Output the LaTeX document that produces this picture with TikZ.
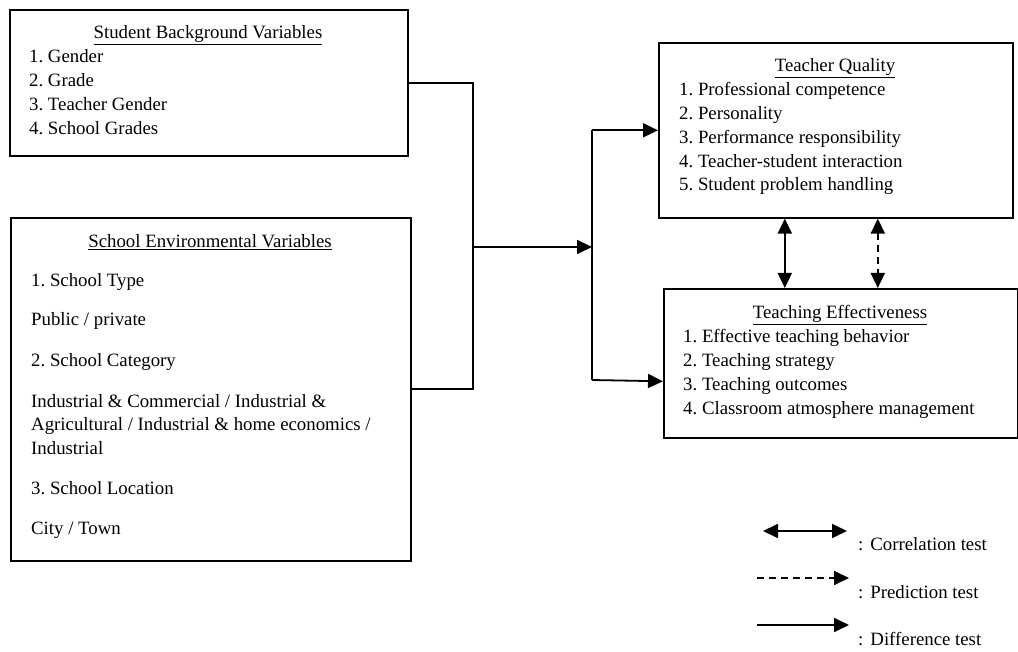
\documentclass[tikz,border=0pt]{standalone}
\usepackage{fontspec}
\setmainfont{Liberation Serif}
\usetikzlibrary{arrows.meta,positioning}
\frenchspacing

\tikzset{
  box/.style={draw, line width=1.6pt, rectangle, anchor=north west, inner sep=0pt},
  txt/.style={anchor=base west, inner sep=0pt, font=\fontsize{18.8}{23.7}\selectfont},
  head/.style={anchor=base, inner sep=0pt, font=\fontsize{18.8}{23.7}\selectfont},
  link/.style={line width=1.8pt},
  arr/.style={line width=1.8pt, -{Triangle[length=15pt,width=14pt]}},
  both/.style={line width=1.8pt, {Triangle[length=15pt,width=14pt]}-{Triangle[length=15pt,width=14pt]}},
  dash line/.style={dash pattern=on 7pt off 5pt}
}

\begin{document}
\begin{tikzpicture}[x=1pt,y=-1pt]
  \useasboundingbox (0,0) rectangle (1018,652);

  % boxes
  \node[box, minimum width=398pt, minimum height=146pt] (sbv) at (9,9) {};
  \node[box, minimum width=400pt, minimum height=343pt] (sev) at (10,217) {};
  \node[box, minimum width=354pt, minimum height=175pt] (tq) at (658,42) {};
  \node[box, minimum width=354pt, minimum height=149pt] (te) at (663,288) {};

  % student background
  \node[head] (sbvh) at (208,39) {\underline{Student Background Variables}};
  \foreach \t [count=\i] in {Gender, Grade, Teacher Gender, School Grades}
    \node[txt] (sbv\i) at (29,39+24*\i) {\i. \t};

  % school environment
  \node[head] (sevh) at (210,248) {\underline{School Environmental Variables}};
  \node[txt] (sev1) at (31,287) {1. School Type};
  \node[txt] (sev1a) at (31,326) {Public / private};
  \node[txt] (sev2) at (31,367) {2. School Category};
  \node[txt] (sev2a) at (31,407) {Industrial \& Commercial / Industrial \&};
  \node[txt] (sev2b) at (31,431) {Agricultural / Industrial \& home economics /};
  \node[txt] (sev2c) at (31,454) {Industrial};
  \node[txt] (sev3) at (31,494) {3. School Location};
  \node[txt] (sev3a) at (31,534) {City / Town};

  % teacher quality
  \node[head] (tqh) at (835,72) {\underline{Teacher Quality}};
  \foreach \t [count=\i] in {Professional competence, Personality,
      Performance responsibility, Teacher-student interaction,
      Student problem handling}
    \node[txt] (tq\i) at (679,72+23.8*\i) {\i. \t};

  % teaching effectiveness
  \node[head] (teh) at (840,319) {\underline{Teaching Effectiveness}};
  \foreach \t [count=\i] in {Effective teaching behavior, Teaching strategy,
      Teaching outcomes, Classroom atmosphere management}
    \node[txt] (te\i) at (683,319+23.8*\i) {\i. \t};

  % connectors
  \coordinate (jl) at (473,247);
  \coordinate (jr) at (592,247);
  \draw[link] (sbv.east) -| (jl) |- (sev.east);
  \draw[arr] (jl) -- (jr);
  \draw[link] (jr |- tq.west) -- (jr |- 0,380);
  \draw[arr] (jr |- tq.west) -- (tq.west);
  \draw[arr] (jr |- 0,380) -- ([yshift=-18pt]te.west);
  \draw[both] ([xshift=-51pt]tq.south) -- ([xshift=-51pt]tq.south |- te.north);
  \draw[both, dash line] ([xshift=42pt]tq.south) -- ([xshift=42pt]tq.south |- te.north);

  % legend
  \coordinate (c1) at (763,531);
  \coordinate (c2) at (847,531);
  \coordinate (p1) at (757,578);
  \coordinate (p2) at (849,578);
  \coordinate (d1) at (757,625);
  \coordinate (d2) at (849,625);
  \draw[both] (c1) -- (c2);
  \draw[arr, dash line] (p1) -- (p2);
  \draw[arr] (d1) -- (d2);
  \node[txt] (cl) at (858,550) {:\hspace{7pt}Correlation test};
  \node[txt] (pl) at (858,598) {:\hspace{7pt}Prediction test};
  \node[txt] (dl) at (858,645) {:\hspace{7pt}Difference test};
\end{tikzpicture}
\end{document}
